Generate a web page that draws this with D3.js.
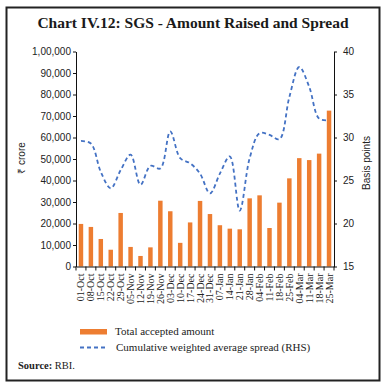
<!DOCTYPE html>
<html><head><meta charset="utf-8">
<script src="https://cdn.jsdelivr.net/npm/d3@7"></script>
<style>body{margin:0;background:#fff}svg{display:block}</style>
</head><body>
<script>
const categories = ["01-Oct","08-Oct","15-Oct","22-Oct","29-Oct","05-Nov","12-Nov","19-Nov","26-Nov","03-Dec","10-Dec","17-Dec","24-Dec","31-Dec","07-Jan","14-Jan","21-Jan","28-Jan","04-Feb","11-Feb","18-Feb","25-Feb","04-Mar","11-Mar","18-Mar","25-Mar"];
const amount = [19800,18400,12800,7800,24900,9100,4900,8900,30600,25700,11000,20500,30500,24400,19200,17600,17300,31700,33100,17900,29700,41000,50400,49500,52500,72500];
const spread = [29.6,29.3,26.0,24.1,26.2,28.0,24.5,26.7,26.4,30.7,27.6,27.0,25.8,23.5,25.8,27.8,21.5,27.6,30.5,30.3,29.8,34.7,38.2,35.9,32.2,32.0];
const leftTicks = [0,10000,20000,30000,40000,50000,60000,70000,80000,90000,100000];
const leftTickLabels = ["0","10,000","20,000","30,000","40,000","50,000","60,000","70,000","80,000","90,000","1,00,000"];
const rightTicks = [15,20,25,30,35,40];

const W = 386, H = 389;
const svg = d3.select("body").append("svg").attr("width", W).attr("height", H);

// frame
svg.append("rect").attr("x",6.5).attr("y",7.5).attr("width",373).attr("height",373)
  .attr("fill","none").attr("stroke","#222").attr("stroke-width",2);

svg.append("text").attr("x",193).attr("y",28).attr("text-anchor","middle")
  .attr("font-family","Liberation Serif").attr("font-weight","bold").attr("font-size",15.5)
  .attr("fill","#1a1a1a").text("Chart IV.12: SGS - Amount Raised and Spread");

const x0 = 76, x1 = 334, yTop = 51.5, yBot = 266.5;
const x = d3.scaleBand().domain(categories).range([x0, x1]).paddingInner(0.55).paddingOuter(0.275);
const yL = d3.scaleLinear().domain([0,100000]).range([yBot, yTop]);
const yR = d3.scaleLinear().domain([15,40]).range([yBot, yTop]);

// bars
svg.append("g").selectAll("rect").data(amount).join("rect")
  .attr("x",(d,i)=>x(categories[i])).attr("width",x.bandwidth())
  .attr("y",d=>yL(d)).attr("height",d=>yL(0)-yL(d)).attr("fill","#ED7D31");

// line
const line = d3.line().x((d,i)=>x(categories[i])+x.bandwidth()/2).y(d=>yR(d)).curve(d3.curveCatmullRom.alpha(0.5));
svg.append("path").datum(spread).attr("d",line).attr("fill","none")
  .attr("stroke","#4472C4").attr("stroke-width",1.8).attr("stroke-dasharray","4,3");

// left axis
const gL = svg.append("g").attr("transform",`translate(${x0},0)`)
  .call(d3.axisLeft(yL).tickValues(leftTicks).tickFormat((d,i)=>leftTickLabels[i]).tickSize(3).tickSizeOuter(0).tickPadding(2));
gL.selectAll("text").attr("font-family","Liberation Sans").attr("font-size",10).attr("fill","#222");
gL.selectAll("line,path").attr("stroke","#111");

// right axis
const gR = svg.append("g").attr("transform",`translate(${x1},0)`)
  .call(d3.axisRight(yR).tickValues(rightTicks).tickSize(3).tickSizeOuter(0).tickPadding(6));
gR.selectAll("text").attr("font-family","Liberation Sans").attr("font-size",10).attr("fill","#222");
gR.selectAll("line,path").attr("stroke","#111");

// bottom axis
const gB = svg.append("g").attr("transform",`translate(0,${yBot})`)
  .call(d3.axisBottom(x).tickSize(0).tickSizeOuter(0).tickPadding(4));
gB.select("path").attr("stroke","#111");
gB.selectAll(".tick text").attr("font-family","Liberation Serif").attr("font-size",10).attr("fill","#222")
  .attr("transform","rotate(-90)").attr("text-anchor","end").attr("dx","-0.3em").attr("dy","-0.55em").attr("y",0).attr("x",-4)
  .attr("dy","0.35em");
// boundary ticks
const bounds = categories.map((c,i)=> x(c) - x.step()*x.paddingInner()/2).concat([x1]);
gB.append("g").selectAll("line").data(bounds).join("line")
  .attr("x1",d=>d).attr("x2",d=>d).attr("y1",0).attr("y2",4).attr("stroke","#111");

// axis titles
svg.append("text").attr("transform","translate(25,158) rotate(-90)").attr("text-anchor","middle")
  .attr("font-family","Liberation Sans").attr("font-size",10).attr("fill","#222").text("₹ crore");
svg.append("text").attr("transform","translate(370,163) rotate(-90)").attr("text-anchor","middle")
  .attr("font-family","Liberation Sans").attr("font-size",10).attr("fill","#222").text("Basis points");

// legend
svg.append("rect").attr("x",80).attr("y",329).attr("width",27).attr("height",5.5).attr("fill","#ED7D31");
svg.append("text").attr("x",115).attr("y",335).attr("font-family","Liberation Serif").attr("font-size",11).attr("fill","#222").text("Total accepted amount");
svg.append("line").attr("x1",80).attr("x2",107).attr("y1",347.5).attr("y2",347.5)
  .attr("stroke","#4472C4").attr("stroke-width",1.8).attr("stroke-dasharray","4,3");
svg.append("text").attr("x",116).attr("y",351).attr("font-family","Liberation Serif").attr("font-size",11).attr("fill","#222").text("Cumulative weighted average spread (RHS)");

const src = svg.append("text").attr("x",18).attr("y",369).attr("font-family","Liberation Serif").attr("font-size",10.5).attr("fill","#222");
src.append("tspan").attr("font-weight","bold").text("Source: ");
src.append("tspan").text("RBI.");
</script>
</body></html>
